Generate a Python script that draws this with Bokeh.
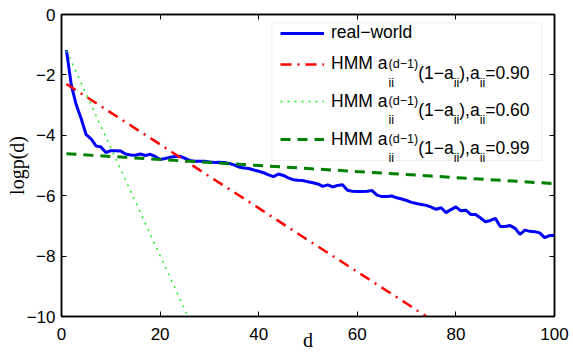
from bokeh.plotting import figure
from bokeh.models import (Range1d, FixedTicker, LinearAxis, Legend, LegendItem,
                          Label, BoxAnnotation)
from bokeh.embed import file_html
from bokeh.resources import INLINE

# ---------------- data ----------------
d_real = list(range(1, 101))
logp_real = [
    -1.18, -2.35, -3.00, -3.45, -3.98, -4.12, -4.35, -4.39, -4.57, -4.51,
    -4.51, -4.52, -4.62, -4.65, -4.66, -4.62, -4.67, -4.63, -4.70, -4.80,
    -4.77, -4.73, -4.70, -4.69, -4.76, -4.83, -4.86, -4.86, -4.86, -4.88,
    -4.90, -4.89, -4.90, -4.93, -4.98, -5.05, -5.08, -5.10, -5.15, -5.19,
    -5.24, -5.31, -5.37, -5.28, -5.33, -5.41, -5.47, -5.49, -5.50, -5.54,
    -5.57, -5.61, -5.69, -5.64, -5.71, -5.66, -5.64, -5.82, -5.85, -5.86,
    -5.86, -5.85, -5.83, -5.98, -6.03, -6.03, -6.01, -6.07, -6.11, -6.16,
    -6.22, -6.26, -6.29, -6.32, -6.38, -6.45, -6.40, -6.56, -6.46, -6.37,
    -6.50, -6.48, -6.62, -6.62, -6.74, -6.86, -6.82, -6.75, -7.02, -7.02,
    -6.99, -7.08, -7.28, -7.14, -7.18, -7.19, -7.23, -7.39, -7.32, -7.32,
]

d_090 = [1, 10, 20, 30, 40, 50, 60, 70, 74]
logp_090 = [-2.30, -3.25, -4.30, -5.36, -6.41, -7.47, -8.52, -9.57, -10.0]

d_060 = [1, 5, 10, 15, 20, 25, 26]
logp_060 = [-1.20, -2.63, -4.42, -6.20, -7.99, -9.77, -10.13]

d_099 = [1, 25, 50, 75, 100]
logp_099 = [-4.61, -4.85, -5.10, -5.35, -5.60]

x_ticks = [0, 20, 40, 60, 80, 100]
y_ticks = [0, -2, -4, -6, -8, -10]
y_tick_labels = ["0", "\u22122", "\u22124", "\u22126", "\u22128", "\u221210"]

legend_first = "real\u2212world"
hmm_prefix = "HMM a"
hmm_sup = "(d\u22121)"
hmm_mid = "(1\u2212a"
hmm_mid2 = "),a"
hmm_sub = "ii"
hmm_values = ["=0.90", "=0.60", "=0.99"]

# ---------------- figure ----------------
X0, X1, Y0, Y1 = 0, 100, -10, 0
p = figure(width=573, height=353,
           x_range=Range1d(X0, X1), y_range=Range1d(Y0, Y1),
           output_backend="svg", toolbar_location=None,
           min_border_left=61, min_border_right=19,
           min_border_top=14, min_border_bottom=34)
p.background_fill_color = "white"
p.border_fill_color = "white"
p.outline_line_color = "black"
p.outline_line_width = 1.5
p.xgrid.visible = False
p.ygrid.visible = False

TICK_FONT = "Liberation Sans"
xa = p.xaxis[0]
ya = p.yaxis[0]
xa.ticker = FixedTicker(ticks=x_ticks)
ya.ticker = FixedTicker(ticks=y_ticks)
ya.major_label_overrides = {t: l for t, l in zip(y_ticks, y_tick_labels)}
for ax in (xa, ya):
    ax.major_tick_in = 5
    ax.major_tick_out = 0
    ax.minor_tick_in = 0
    ax.minor_tick_out = 0
    ax.axis_line_width = 1.5
    ax.major_tick_line_width = 1
    ax.major_label_text_font = TICK_FONT
    ax.major_label_text_font_size = "17px"
    ax.major_label_text_color = "black"
    ax.axis_label_text_font = "Liberation Serif"
    ax.axis_label_text_font_size = "20px"
    ax.axis_label_text_font_style = "normal"
    ax.axis_label_text_color = "black"
xa.axis_label = "d"
ya.axis_label = "logp(d)"
xa.major_label_standoff = 11
xa.axis_label_standoff = -14
ya.major_label_standoff = 6
ya.axis_label_standoff = -4

for loc, ticks in (("above", x_ticks), ("right", y_ticks)):
    extra = LinearAxis(ticker=FixedTicker(ticks=ticks),
                       major_label_text_font_size="1px",
                       major_label_text_color=None,
                       major_label_standoff=0, major_tick_in=5, major_tick_out=0,
                       minor_tick_in=0, minor_tick_out=0, axis_line_width=1.5)
    p.add_layout(extra, loc)

# ---------------- series ----------------
r_real = p.line(d_real, logp_real, line_color="#0000ff", line_width=3)
r_090 = p.line(d_090, logp_090, line_color="#ff0000", line_width=2.5,
               line_dash="11 6 2 6")
r_060 = p.line(d_060, logp_060, line_color="#22ee22", line_width=1.5,
               line_dash="2 5")
r_099 = p.line(d_099, logp_099, line_color="#008000", line_width=3,
               line_dash="10 7")

# ---------------- legend ----------------
# plot-frame geometry in picture pixels
FL, FR, FT, FB = 62.0, 554.0, 14.0, 319.0


def px2x(px):
    return X0 + (px - FL) / (FR - FL) * (X1 - X0)


def px2y(py):
    return Y1 - (py - FT) / (FB - FT) * (Y1 - Y0)


box = BoxAnnotation(left=px2x(272), right=px2x(541), top=px2y(22.5), bottom=px2y(161.5),
                    fill_color="white", fill_alpha=1.0,
                    line_color="#c8c6c4", line_width=1)
p.add_layout(box)

F, S = 17.5, 12.5
ITEM_H = 20
sample_centers = [36, 67, 104.5, 142.5]
first_texts = [legend_first, hmm_prefix, hmm_prefix, hmm_prefix]
for r, cy, txt in zip([r_real, r_090, r_060, r_099], sample_centers, first_texts):
    leg = Legend(items=[LegendItem(label=txt, renderers=[r])],
                 location=(281 - FL, FB - (cy + ITEM_H / 2)),
                 glyph_width=44, glyph_height=ITEM_H, label_height=ITEM_H,
                 label_width=0, label_standoff=7, padding=0, margin=0, spacing=0,
                 border_line_alpha=0, background_fill_alpha=0,
                 label_text_font="Liberation Sans", label_text_font_size=f"{F}px",
                 label_text_color="black")
    p.add_layout(leg)

W = {"H": 722, "M": 833, " ": 278, "a": 556, "r": 333, "e": 556, "l": 222,
     "w": 722, "o": 556, "d": 556, "(": 333, ")": 333, "\u2212": 584, "1": 556,
     "i": 222, ",": 278, "=": 584, "0": 556, "9": 556, "6": 556, ".": 278}


def tw(s, size):
    return sum(W.get(c, 556) for c in s) * size / 1000.0


def put(txt, px, py, size):
    p.add_layout(Label(x=px2x(px), y=px2y(py), text=txt,
                       text_font="Liberation Sans", text_font_size=f"{size}px",
                       text_color="black", text_baseline="alphabetic",
                       text_align="left"))


TX = 281 + 44 + 7
for val, cy in zip(hmm_values, sample_centers[1:]):
    base = cy + 0.36 * F
    x = TX + tw(hmm_prefix, F)
    put(hmm_sup, x, base - 9, S)
    put(hmm_sub, x, base + 10, S)
    x += max(tw(hmm_sup, S), tw(hmm_sub, S))
    put(hmm_mid, x, base, F)
    x += tw(hmm_mid, F)
    put(hmm_sub, x, base + 10, S)
    x += tw(hmm_sub, S)
    put(hmm_mid2, x, base, F)
    x += tw(hmm_mid2, F)
    put(hmm_sub, x, base + 10, S)
    x += tw(hmm_sub, S)
    put(val, x, base, F)

open("out.html", "w").write(file_html(p, INLINE))
